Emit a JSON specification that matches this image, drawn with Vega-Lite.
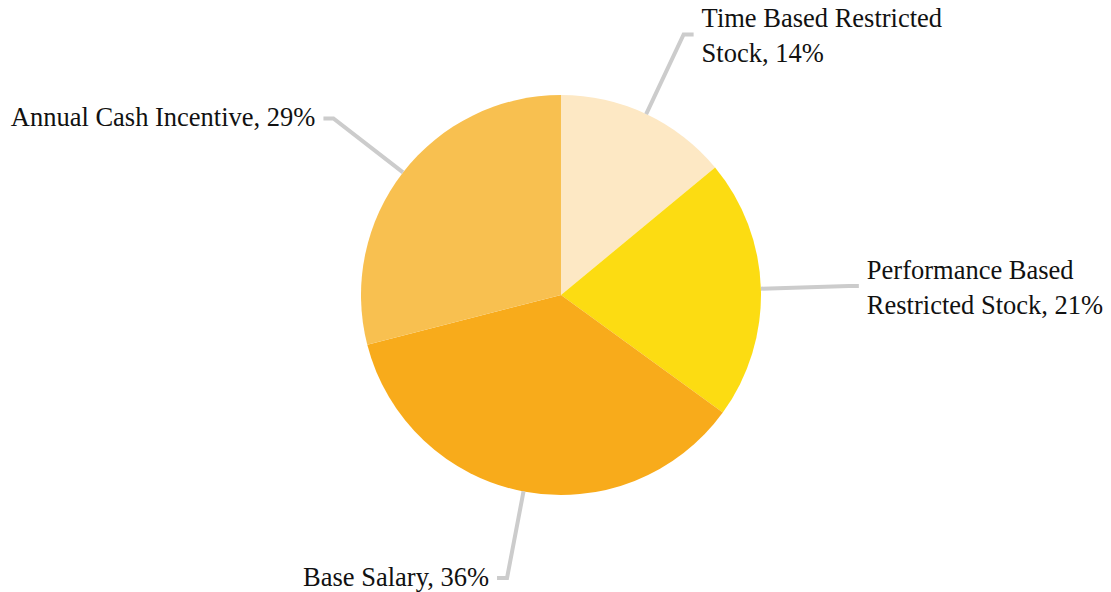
{
  "$schema": "https://vega.github.io/schema/vega-lite/v6.json",
  "width": 1111,
  "height": 592,
  "autosize": {"type": "fit", "contains": "padding"},
  "padding": 0,
  "background": "white",
  "config": {"view": {"stroke": null}},
  "data": {
    "values": [
      {"category": "Time Based Restricted Stock", "value": 14, "order": 1, "label": "Time Based Restricted\nStock, 14%"},
      {"category": "Performance Based Restricted Stock", "value": 21, "order": 2, "label": "Performance Based\nRestricted Stock, 21%"},
      {"category": "Base Salary", "value": 36, "order": 3, "label": "Base Salary, 36%"},
      {"category": "Annual Cash Incentive", "value": 29, "order": 4, "label": "Annual Cash Incentive, 29%"}
    ]
  },
  "transform": [
    {"window": [{"op": "sum", "field": "value", "as": "cum"}], "sort": [{"field": "order"}], "frame": [null, 0]},
    {"calculate": "(datum.cum - datum.value / 2) / 100 * 2 * PI", "as": "mid"},
    {"calculate": "sin(datum.mid)", "as": "ex"},
    {"calculate": "cos(datum.mid)", "as": "ey"},
    {"calculate": "1.44 * sin(datum.mid)", "as": "ox"},
    {"calculate": "1.44 * cos(datum.mid)", "as": "oy"},
    {"calculate": "datum.ox + (datum.ox > 0 ? 0.05 : -0.05)", "as": "hx"},
    {"calculate": "datum.hx + (datum.ox > 0 ? 0.04 : -0.04)", "as": "tx"}
  ],
  "layer": [
    {
      "mark": {"type": "arc", "outerRadius": 200, "stroke": null},
      "encoding": {
        "x": {"datum": 0, "type": "quantitative", "scale": {"domain": [-2.805, 2.75], "nice": false, "zero": false}, "axis": null},
        "y": {"datum": 0, "type": "quantitative", "scale": {"domain": [-1.485, 1.475], "nice": false, "zero": false}, "axis": null},
        "theta": {"field": "value", "type": "quantitative", "stack": true},
        "order": {"field": "order", "type": "quantitative"},
        "color": {
          "field": "category",
          "type": "nominal",
          "legend": null,
          "scale": {
            "domain": ["Time Based Restricted Stock", "Performance Based Restricted Stock", "Base Salary", "Annual Cash Incentive"],
            "range": ["#FDE8C4", "#FCDC12", "#F8AB1B", "#F8C050"]
          }
        }
      }
    },
    {
      "transform": [
        {"fold": ["ex", "ox", "hx"], "as": ["pt", "px"]},
        {"calculate": "datum.pt == 'ex' ? datum.ey : datum.oy", "as": "py"},
        {"calculate": "datum.pt == 'ex' ? 0 : (datum.pt == 'ox' ? 1 : 2)", "as": "step"}
      ],
      "mark": {"type": "line", "stroke": "#CCCCCC", "strokeWidth": 4, "strokeJoin": "miter"},
      "encoding": {
        "x": {"field": "px", "type": "quantitative"},
        "y": {"field": "py", "type": "quantitative"},
        "detail": {"field": "category"},
        "order": {"field": "step", "type": "quantitative"}
      }
    },
    {
      "transform": [{"filter": "datum.ox > 0"}],
      "mark": {"type": "text", "align": "left", "baseline": "middle", "dy": -15, "font": "Liberation Serif", "fontSize": 26.5, "lineHeight": 35, "lineBreak": "\n", "color": "#111111"},
      "encoding": {
        "x": {"field": "tx", "type": "quantitative"},
        "y": {"field": "oy", "type": "quantitative"},
        "text": {"field": "label"}
      }
    },
    {
      "transform": [{"filter": "datum.ox <= 0"}],
      "mark": {"type": "text", "align": "right", "baseline": "middle", "font": "Liberation Serif", "fontSize": 26.5, "lineHeight": 35, "lineBreak": "\n", "color": "#111111"},
      "encoding": {
        "x": {"field": "tx", "type": "quantitative"},
        "y": {"field": "oy", "type": "quantitative"},
        "text": {"field": "label"}
      }
    }
  ]
}
